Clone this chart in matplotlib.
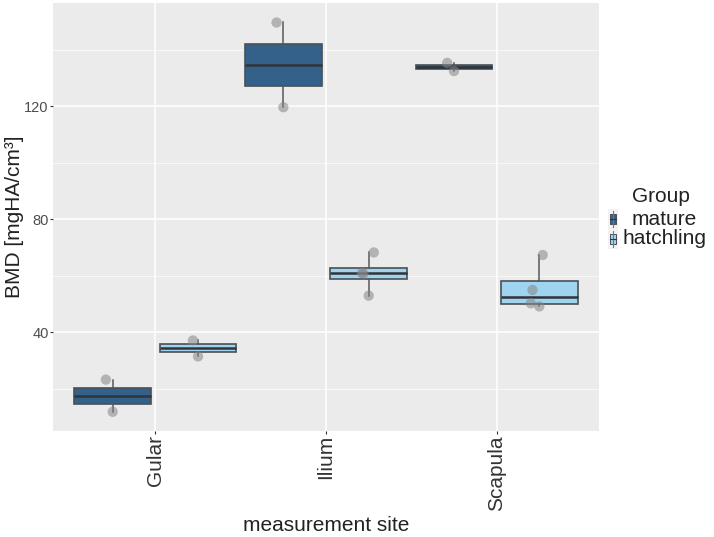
import numpy as np
import matplotlib.pyplot as plt
from matplotlib.patches import Rectangle
from matplotlib.lines import Line2D
from matplotlib.ticker import MultipleLocator

plt.rcParams['font.family'] = ['Liberation Sans', 'DejaVu Sans']

sites = ['Gular', 'Ilium', 'Scapula']
groups = ['mature', 'hatchling']
colors = {'mature': '#34618a', 'hatchling': '#a0d3f0'}

# measured BMD values per site/group
bmd = {
    ('Gular', 'mature'): [11.8, 23.2],
    ('Gular', 'hatchling'): [31.4, 37.05],
    ('Ilium', 'mature'): [119.6, 149.6],
    ('Ilium', 'hatchling'): [52.9, 60.7, 60.9, 68.2],
    ('Scapula', 'mature'): [132.4, 135.3],
    ('Scapula', 'hatchling'): [49.1, 50.2, 54.9, 67.3],
}
# horizontal jitter of the points (category units)
jitter = {
    ('Gular', 'mature'): [0.0, -0.04],
    ('Gular', 'hatchling'): [0.0, -0.03],
    ('Ilium', 'mature'): [0.0, -0.04],
    ('Ilium', 'hatchling'): [0.0, -0.03, -0.04, 0.03],
    ('Scapula', 'mature'): [0.0, -0.04],
    ('Scapula', 'hatchling'): [0.0, -0.05, -0.04, 0.02],
}

W, H = 714, 537
fig = plt.figure(figsize=(W / 100, H / 100), dpi=100)
ax = fig.add_axes([0.0742, 0.1974, 0.7648, 0.797])
ax.set_facecolor('#EBEBEB')

edge = '#4a4f55'
offsets = {'mature': -0.25, 'hatchling': 0.25}
for i, s in enumerate(sites):
    for g in groups:
        pos = i + 1 + offsets[g]
        vals = bmd[(s, g)]
        ax.boxplot([vals], positions=[pos], widths=0.45, whis=(0, 100),
                   patch_artist=True, showfliers=False, manage_ticks=False,
                   boxprops=dict(facecolor=colors[g], edgecolor=edge, linewidth=1.2),
                   medianprops=dict(color='#2f3439', linewidth=1.8),
                   whiskerprops=dict(color='#55595e', linewidth=1.1),
                   capprops=dict(linewidth=0), zorder=3)
        xs = pos + np.array(jitter[(s, g)])
        ax.scatter(xs, vals, s=55, color='#858585', alpha=0.55, edgecolors='none', zorder=4)

ax.set_xlim(0.4, 3.6)
ax.set_ylim(5, 156.5)
ax.set_xticks([1, 2, 3])
ax.set_xticklabels(sites, rotation=90, fontsize=15, color='#333333')
ax.yaxis.set_major_locator(MultipleLocator(40))
ax.yaxis.set_minor_locator(MultipleLocator(20))
ax.tick_params(axis='y', labelsize=10.5, labelcolor='#4D4D4D', length=2, color='#333333', pad=1)
ax.tick_params(axis='x', length=2, color='#333333', pad=1)
ax.tick_params(which='minor', length=0)
ax.grid(True, which='major', color='white', linewidth=1.1, zorder=0)
ax.grid(True, which='minor', axis='y', color='white', linewidth=0.5, zorder=0)
ax.set_axisbelow(True)
for sp in ax.spines.values():
    sp.set_visible(False)

ax.set_xlabel('measurement site', fontsize=15, color='#222222')
ax.xaxis.set_label_coords(0.5, -(516 - 431) / 428.0)
ax.set_ylabel('BMD [mgHA/cm³]', fontsize=15, color='#222222')
ax.yaxis.set_label_coords((24 - 53) / 546.0, 0.5)

# legend drawn by hand, labels centred like the reference
fig.text(661 / W, 1 - 197 / H, 'Group', fontsize=15, color='#222222', ha='center', va='center')
for k, g in enumerate(groups):
    yc = 1 - (219 + 20 * k) / H
    fig.add_artist(Rectangle((608 / W, yc - 10 / H), 10 / W, 20 / H,
                             transform=fig.transFigure, facecolor='#F2F2F2', edgecolor='none'))
    fig.add_artist(Line2D([613 / W, 613 / W], [yc - 8 / H, yc + 8 / H],
                          transform=fig.transFigure, color='#777777', linewidth=0.8))
    fig.add_artist(Rectangle((610 / W, yc - 4.5 / H), 6 / W, 9 / H,
                             transform=fig.transFigure, facecolor=colors[g], edgecolor=edge, linewidth=0.7))
    fig.add_artist(Line2D([610 / W, 616 / W], [yc, yc],
                          transform=fig.transFigure, color='#2f3439', linewidth=0.8))
    fig.text(664 / W, yc, g, fontsize=15, color='#222222', ha='center', va='center')

fig.savefig('out.png', dpi=100)
